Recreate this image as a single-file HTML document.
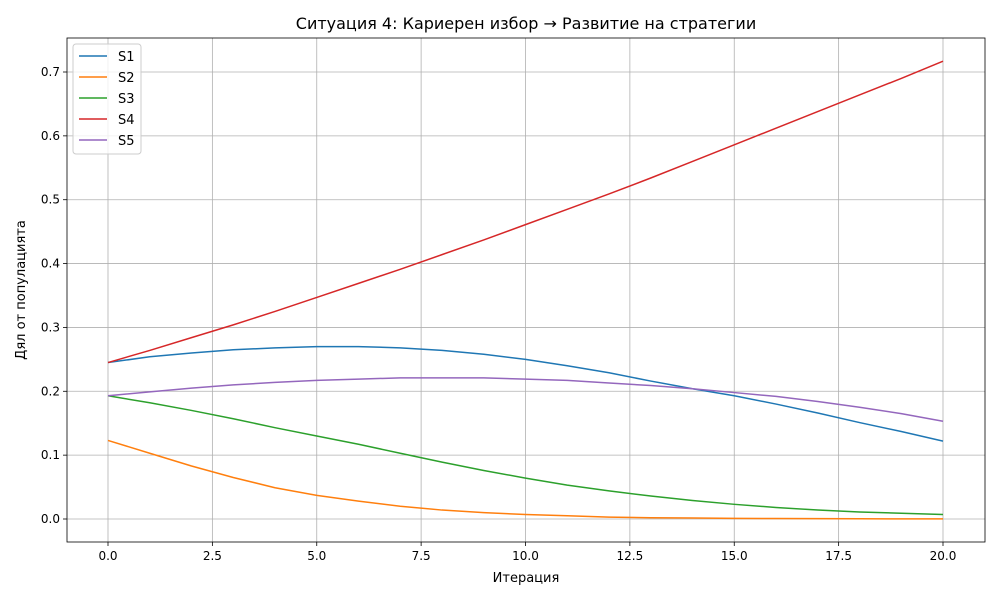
<!DOCTYPE html>
<html><head><meta charset="utf-8"><style>
body{margin:0;background:#fff;font-family:"Liberation Sans","DejaVu Sans",sans-serif}
</style></head><body>
<svg id="chart" width="1000" height="600" xmlns="http://www.w3.org/2000/svg" font-family="DejaVu Sans, Liberation Sans, sans-serif"></svg>
<script>
const iterations=[0,1,2,3,4,5,6,7,8,9,10,11,12,13,14,15,16,17,18,19,20];
const seriesNames=["S1","S2","S3","S4","S5"];
const s1=[0.245,0.254,0.260,0.265,0.268,0.270,0.270,0.268,0.264,0.258,0.250,0.240,0.229,0.216,0.204,0.193,0.180,0.166,0.151,0.137,0.122];
const s2=[0.123,0.103,0.083,0.065,0.049,0.037,0.028,0.020,0.014,0.010,0.007,0.005,0.003,0.002,0.0015,0.001,0.0007,0.0005,0.0003,0.0002,0.0001];
const s3=[0.193,0.182,0.170,0.157,0.143,0.130,0.117,0.103,0.089,0.076,0.064,0.053,0.044,0.036,0.029,0.023,0.018,0.014,0.011,0.009,0.007];
const s4=[0.245,0.264,0.284,0.304,0.325,0.347,0.369,0.391,0.414,0.437,0.461,0.485,0.509,0.534,0.560,0.586,0.612,0.638,0.664,0.690,0.717];
const s5=[0.193,0.199,0.205,0.210,0.214,0.217,0.219,0.221,0.221,0.221,0.219,0.217,0.213,0.209,0.204,0.198,0.192,0.184,0.175,0.165,0.153];
const xTicks=[0,2.5,5,7.5,10,12.5,15,17.5,20];
const xTickLabels=["0.0","2.5","5.0","7.5","10.0","12.5","15.0","17.5","20.0"];
const yTicks=[0,0.1,0.2,0.3,0.4,0.5,0.6,0.7];
const yTickLabels=["0.0","0.1","0.2","0.3","0.4","0.5","0.6","0.7"];
const colors=["#1f77b4","#ff7f0e","#2ca02c","#d62728","#9467bd"];
const allSeries=[s1,s2,s3,s4,s5];
const L=67,R=985,T=38,B=542;
const xs=v=>108+v*(943-108)/20;
const ys=v=>519-v*(519-72)/0.7;
const svg=document.getElementById('chart');
const NS="http://www.w3.org/2000/svg";
function mk(tag,attrs,parent){const e=document.createElementNS(NS,tag);for(const k in attrs)e.setAttribute(k,attrs[k]);(parent||svg).appendChild(e);return e;}
const grid=mk('g',{});


xTicks.forEach((t,i)=>{
 const x=xs(t);
 mk('line',{x1:x,x2:x,y1:T,y2:B,stroke:'#b0b0b0','stroke-width':0.8},grid);
 mk('line',{x1:x,x2:x,y1:B,y2:B+4,stroke:'#000','stroke-width':0.8});
 const tx=mk('text',{x:x,y:B+18,'text-anchor':'middle','font-size':12,fill:'#000'});
 tx.textContent=xTickLabels[i];
 
 
});
yTicks.forEach((t,i)=>{
 const y=ys(t);
 mk('line',{x1:L,x2:R,y1:y,y2:y,stroke:'#b0b0b0','stroke-width':0.8},grid);
 mk('line',{x1:L-4,x2:L,y1:y,y2:y,stroke:'#000','stroke-width':0.8});
 const tx=mk('text',{x:L-7,y:y+4,'text-anchor':'end','font-size':12,fill:'#000'});
 tx.textContent=yTickLabels[i];
 
 
});
allSeries.forEach((s,i)=>{
 const p=mk('polyline',{points:s.map((v,j)=>xs(iterations[j])+','+ys(v)).join(' '),fill:'none',stroke:colors[i],'stroke-width':1.5,'stroke-linejoin':'round'});
 
 
});
const frame=mk('rect',{x:L,y:T,width:R-L,height:B-T,fill:'none',stroke:'#000','stroke-width':0.8});


const title=mk('text',{x:526,y:29,'text-anchor':'middle','font-size':16,fill:'#000'});
title.textContent='Ситуация 4: Кариерен избор → Развитие на стратегии';


const xl=mk('text',{x:526,y:582,'text-anchor':'middle','font-size':13,fill:'#000'});
xl.textContent='Итерация';


const yl=mk('text',{x:25,y:290,'text-anchor':'middle','font-size':13,fill:'#000',transform:'rotate(-90 25 290)'});
yl.textContent='Дял от популацията';


const lg=mk('g',{});


mk('rect',{x:73,y:44,width:68,height:110,rx:3,fill:'#fff','fill-opacity':0.8,stroke:'#ccc'},lg);
seriesNames.forEach((n,i)=>{
 const y=56+i*21;
 const e=mk('g',{},lg);
 
 
 mk('line',{x1:79,x2:107,y1:y,y2:y,stroke:colors[i],'stroke-width':1.5},e);
 const t=mk('text',{x:118,y:y+5,'font-size':13,fill:'#000'},e);
 t.textContent=n;
});
</script>
</body></html>
